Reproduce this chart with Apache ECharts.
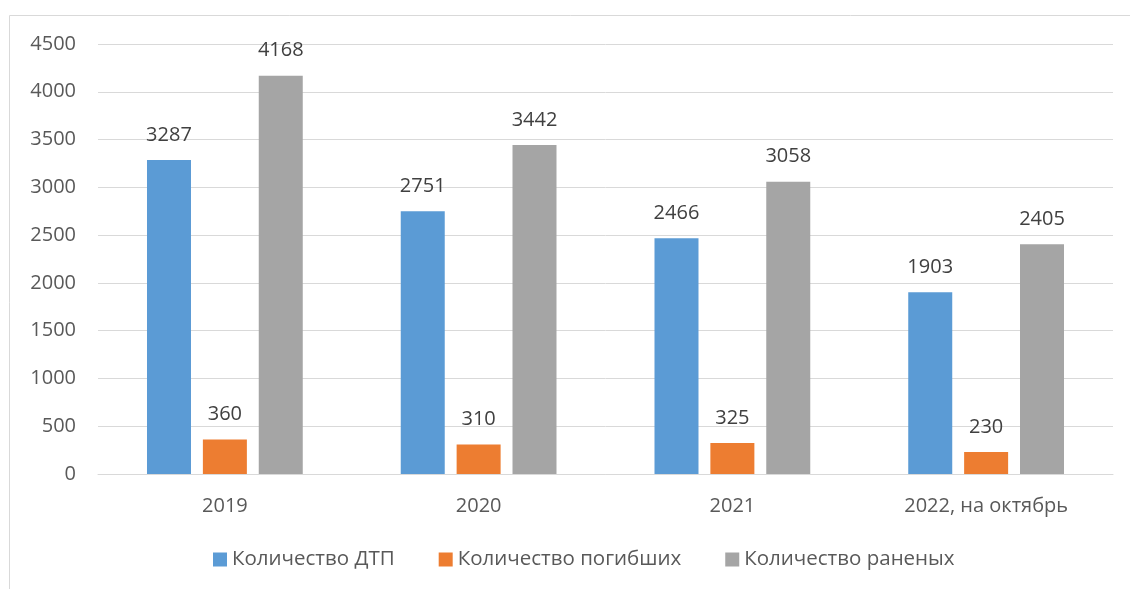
<!DOCTYPE html>
<html><head><meta charset="utf-8">
<script src="https://cdn.jsdelivr.net/npm/echarts@6/dist/echarts.min.js"></script>
<style>html,body{margin:0;padding:0;background:#fff}#c{width:1130px;height:589px}</style>
</head><body><div id="c"></div>
<script>
const categories = ['2019', '2020', '2021', '2022, на октябрь'];
const seriesNames = ['Количество ДТП', 'Количество погибших', 'Количество раненых'];
const accidents = [3287, 2751, 2466, 1903];
const deaths = [360, 310, 325, 230];
const injured = [4168, 3442, 3058, 2405];
const colors = ['#5B9BD5', '#ED7D31', '#A5A5A5'];
const FONT = '"Open Sans", "Noto Sans", sans-serif';
const chart = echarts.init(document.getElementById('c'));
const mk = (name, data, color) => ({
  name, type: 'bar', data, barWidth: 44, barGap: '27%',
  itemStyle: { color },
  label: { show: true, position: 'top', distance: 15, color: '#404040', fontSize: 20, fontFamily: FONT }
});
chart.setOption({
  animation: false,
  textStyle: { fontFamily: FONT },
  graphic: [{ type: 'rect', shape: { x: 9.5, y: 15.5, width: 1200, height: 700 }, style: { fill: 'none', stroke: '#D9D9D9', lineWidth: 1 }, silent: true }],
  grid: { left: 98, right: 17, top: 44, bottom: 115, containLabel: false },
  legend: {
    bottom: 14, left: 208, itemWidth: 14, itemHeight: 14, itemGap: 44,
    icon: 'rect', textStyle: { color: '#595959', fontSize: 20.5, fontFamily: FONT }
  },
  xAxis: {
    type: 'category', data: categories,
    axisLine: { lineStyle: { color: '#D9D9D9', width: 1 } },
    axisTick: { show: false },
    axisLabel: { color: '#595959', fontSize: 20, margin: 22, fontFamily: FONT }
  },
  yAxis: {
    type: 'value', min: 0, max: 4500, interval: 500,
    axisLine: { show: false }, axisTick: { show: false },
    splitLine: { lineStyle: { color: '#D9D9D9', width: 1 } },
    axisLabel: { color: '#595959', fontSize: 20, margin: 22, fontFamily: FONT, formatter: v => String(v) }
  },
  series: [mk(seriesNames[0], accidents, colors[0]), mk(seriesNames[1], deaths, colors[1]), mk(seriesNames[2], injured, colors[2])]
});
</script></body></html>
